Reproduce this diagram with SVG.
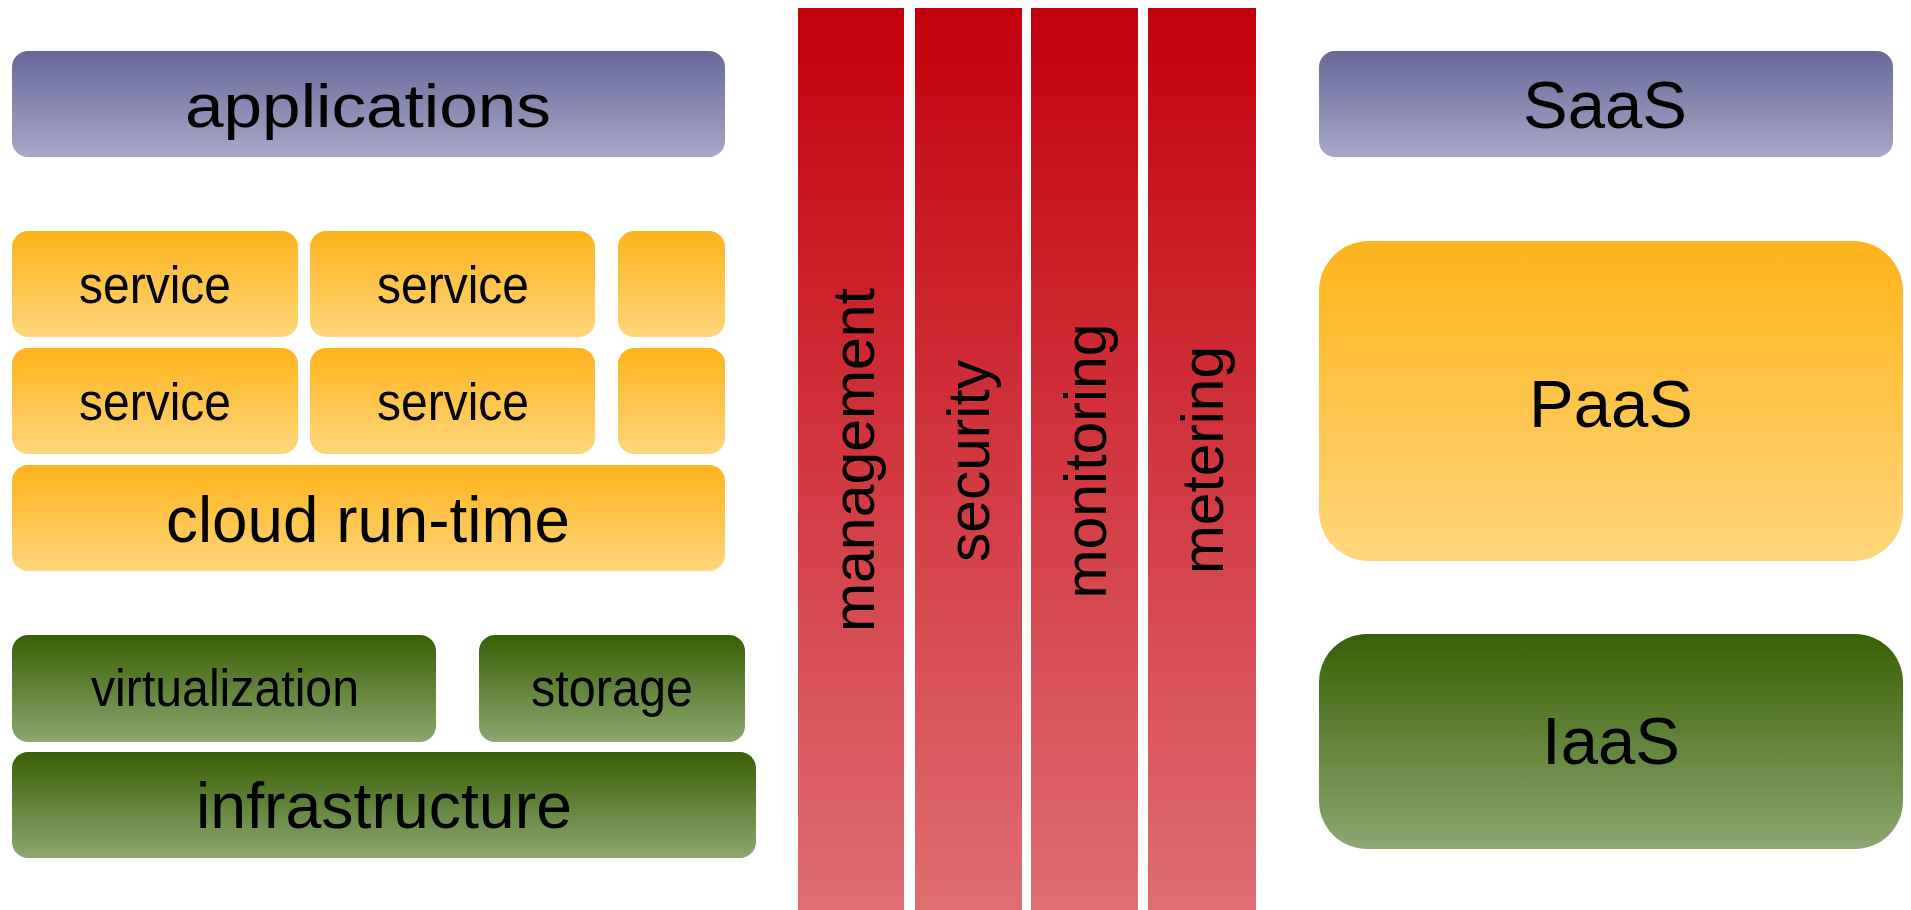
<svg xmlns="http://www.w3.org/2000/svg" width="1911" height="910" viewBox="0 0 1911 910">
<defs>
<linearGradient id="gBlue" x1="0" y1="0" x2="0" y2="1"><stop offset="0" stop-color="#67689A"/><stop offset="1" stop-color="#A8A8C7"/></linearGradient>
<linearGradient id="gOrange" x1="0" y1="0" x2="0" y2="1"><stop offset="0" stop-color="#FEB31B"/><stop offset="1" stop-color="#FED67B"/></linearGradient>
<linearGradient id="gGreen" x1="0" y1="0" x2="0" y2="1"><stop offset="0" stop-color="#386005"/><stop offset="1" stop-color="#8CA770"/></linearGradient>
<linearGradient id="gRed" x1="0" y1="0" x2="0" y2="1"><stop offset="0" stop-color="#C3000B"/><stop offset="1" stop-color="#DF6E73"/></linearGradient>
</defs>
<style>
text{font-family:"Liberation Sans",Arial,sans-serif;fill:#000;text-anchor:middle}
.blue{fill:url(#gBlue)}
.orange{fill:url(#gOrange)}
.green{fill:url(#gGreen)}
.red{fill:url(#gRed)}
.big{font-size:62px}
.mid{font-size:51px}
.bar{font-size:60px}
.right{font-size:67px}
</style>
<rect width="1911" height="910" fill="#fff"/>
<g id="applications"><rect class="blue" x="12" y="51" width="713" height="106" rx="16"/><text class="big" x="368" y="127" textLength="366" lengthAdjust="spacingAndGlyphs">applications</text></g>
<g id="service1"><rect class="orange" x="12" y="231" width="286" height="106" rx="16"/><text class="mid" x="155" y="303" textLength="152" lengthAdjust="spacingAndGlyphs">service</text></g>
<g id="service2"><rect class="orange" x="310" y="231" width="285" height="106" rx="16"/><text class="mid" x="453" y="303" textLength="152" lengthAdjust="spacingAndGlyphs">service</text></g>
<g id="serviceSmall1"><rect class="orange" x="618" y="231" width="107" height="106" rx="16"/></g>
<g id="service3"><rect class="orange" x="12" y="348" width="286" height="106" rx="16"/><text class="mid" x="155" y="420" textLength="152" lengthAdjust="spacingAndGlyphs">service</text></g>
<g id="service4"><rect class="orange" x="310" y="348" width="285" height="106" rx="16"/><text class="mid" x="453" y="420" textLength="152" lengthAdjust="spacingAndGlyphs">service</text></g>
<g id="serviceSmall2"><rect class="orange" x="618" y="348" width="107" height="106" rx="16"/></g>
<g id="cloudRuntime"><rect class="orange" x="12" y="465" width="713" height="106" rx="16"/><text x="368" y="542" textLength="404" lengthAdjust="spacingAndGlyphs" style="font-size:65px">cloud run-time</text></g>
<g id="virtualization"><rect class="green" x="12" y="635" width="424" height="107" rx="16"/><text class="mid" x="225" y="706" textLength="268" lengthAdjust="spacingAndGlyphs">virtualization</text></g>
<g id="storage"><rect class="green" x="479" y="635" width="266" height="107" rx="16"/><text class="mid" x="612" y="706" textLength="162" lengthAdjust="spacingAndGlyphs">storage</text></g>
<g id="infrastructure"><rect class="green" x="12" y="752" width="744" height="106" rx="16"/><text x="384" y="828" textLength="376" lengthAdjust="spacingAndGlyphs" style="font-size:64px">infrastructure</text></g>
<g id="management"><rect class="red" x="798" y="8" width="106" height="902"/><text class="bar" transform="translate(874,460) rotate(-90)" textLength="344" lengthAdjust="spacingAndGlyphs">management</text></g>
<g id="security"><rect class="red" x="915" y="8" width="107" height="902"/><text class="bar" transform="translate(989,461) rotate(-90)" textLength="202" lengthAdjust="spacingAndGlyphs">security</text></g>
<g id="monitoring"><rect class="red" x="1031" y="8" width="107" height="902"/><text class="bar" transform="translate(1106,461) rotate(-90)" textLength="275" lengthAdjust="spacingAndGlyphs">monitoring</text></g>
<g id="metering"><rect class="red" x="1148" y="8" width="108" height="902"/><text class="bar" transform="translate(1223,460) rotate(-90)" textLength="228" lengthAdjust="spacingAndGlyphs">metering</text></g>
<g id="saas"><rect class="blue" x="1319" y="51" width="574" height="106" rx="16"/><text class="right" x="1605" y="128">SaaS</text></g>
<g id="paas"><rect class="orange" x="1319" y="241" width="584" height="320" rx="50"/><text class="right" x="1611" y="427">PaaS</text></g>
<g id="iaas"><rect class="green" x="1319" y="634" width="584" height="215" rx="48"/><text class="right" x="1611" y="764">IaaS</text></g>
<g id="connectors"/>
</svg>
